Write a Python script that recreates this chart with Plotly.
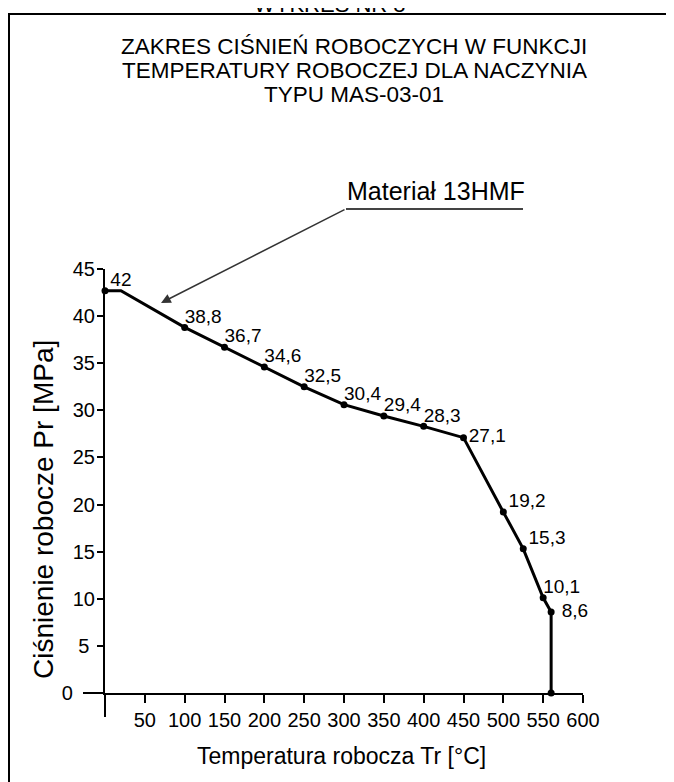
import plotly.graph_objects as go

# ---- data ----
temperature = [0, 20, 100, 150, 200, 250, 300, 350, 400, 450, 500, 525, 550, 560, 560]
pressure = [42.7, 42.7, 38.8, 36.7, 34.6, 32.5, 30.6, 29.4, 28.3, 27.1, 19.2, 15.3, 10.1, 8.6, 0]
point_labels = ["", "42", "38,8", "36,7", "34,6", "32,5", "30,4", "29,4", "28,3", "\u00a027,1",
                "\u00a019,2", "\u00a015,3", "10,1", "\u00a0\u00a08,6", ""]
label_pos = ["top right", "top center", "top right", "top right", "top right", "top right",
             "top right", "top right", "top right", "middle right", "top right",
             "top right", "top right", "middle right", "top right"]
marker_on = [True, False, True, True, True, True, True, True, True, True, True, True, True, True, True]

x_ticks = [50, 100, 150, 200, 250, 300, 350, 400, 450, 500, 550, 600]
y_ticks = [0, 5, 10, 15, 20, 25, 30, 35, 40, 45]
y_ticktext = ["0\u00a0\u00a0\u00a0\u00a0", "5\u00a0", "10", "15", "20", "25", "30", "35", "40", "45"]

title_lines = ["ZAKRES CIŚNIEŃ ROBOCZYCH W FUNKCJI",
               "TEMPERATURY ROBOCZEJ DLA NACZYNIA",
               "TYPU MAS-03-01"]
header = "WYKRES NR 8"
material = "Materiał 13HMF"
x_title = "Temperatura robocza Tr [°C]"
y_title = "Ciśnienie robocze Pr [MPa]"

FONT = "Liberation Sans, Arial, sans-serif"

fig = go.Figure()
fig.add_trace(go.Scatter(
    x=temperature, y=pressure, mode="lines",
    line=dict(color="black", width=3), hoverinfo="skip", showlegend=False, cliponaxis=False))
fig.add_trace(go.Scatter(
    x=[t for t, m in zip(temperature, marker_on) if m],
    y=[p for p, m in zip(pressure, marker_on) if m],
    mode="markers", marker=dict(color="black", size=7),
    showlegend=False, cliponaxis=False))
fig.add_trace(go.Scatter(
    x=temperature, y=pressure, mode="text", text=point_labels, textposition=label_pos,
    textfont=dict(family=FONT, size=19, color="black"), showlegend=False, cliponaxis=False))

W, H = 674, 782
L, R, T, B = 97, 99, 261, 97
pw, ph = W - L - R, H - T - B

def px(xp):
    return (xp - L) / pw

def py(yp):
    return (H - B - yp) / ph

shapes = [
    # frame
    dict(type="rect", xref="paper", yref="paper", x0=px(1), x1=px(672), y0=py(800), y1=py(6),
         line=dict(color="black", width=2)),
    # axis extensions
    dict(type="line", xref="paper", yref="paper", x0=px(75), x1=0, y0=0, y1=0,
         line=dict(color="black", width=2)),
    dict(type="line", xref="paper", yref="paper", x0=0, x1=0, y0=py(709), y1=0,
         line=dict(color="black", width=2)),
    # underline for material
    dict(type="line", xref="paper", yref="paper", x0=px(338), x1=px(515), y0=py(201), y1=py(201),
         line=dict(color="#444", width=2)),
]

annotations = [
    dict(text=header, xref="paper", yref="paper", x=px(322), y=py(-4), showarrow=False,
         font=dict(family=FONT, size=22, color="black"), xanchor="center", yanchor="middle"),
    dict(text=material, xref="paper", yref="paper", x=px(428), y=py(183), showarrow=False,
         font=dict(family=FONT, size=25, color="black"), xanchor="center", yanchor="middle"),
    dict(text="", x=70.3, y=41.4, xref="x", yref="y", showarrow=True, arrowhead=2, arrowsize=1.3,
         arrowwidth=1.5, arrowcolor="#333", ax=185, ay=-94),
    dict(text=x_title, xref="paper", yref="paper", x=px(333), y=py(748), showarrow=False,
         font=dict(family=FONT, size=23, color="black"), xanchor="center", yanchor="middle"),
    dict(text=y_title, xref="paper", yref="paper", x=px(35), y=py(502), showarrow=False,
         textangle=-90, font=dict(family=FONT, size=28, color="black"),
         xanchor="center", yanchor="middle"),
]
for i, line in enumerate(title_lines):
    annotations.append(dict(text=line, xref="paper", yref="paper", x=px(346), y=py(38 + 24 * i),
                            showarrow=False, font=dict(family=FONT, size=22.5, color="black"),
                            xanchor="center", yanchor="middle"))

fig.update_layout(
    width=W, height=H, margin=dict(l=L, r=R, t=T, b=B),
    paper_bgcolor="white", plot_bgcolor="white",
    font=dict(family=FONT, color="black"),
    shapes=shapes, annotations=annotations,
    xaxis=dict(range=[0, 600], showgrid=False, zeroline=False, showline=True, linecolor="black",
               linewidth=2, ticks="outside", ticklen=8, tickwidth=2, tickcolor="black",
               tickvals=x_ticks, tickfont=dict(family=FONT, size=20, color="black")),
    yaxis=dict(range=[0, 45], showgrid=False, zeroline=False, showline=True, linecolor="black",
               linewidth=2, ticks="outside", ticklen=6, tickwidth=2, tickcolor="black",
               tickvals=y_ticks, ticktext=y_ticktext, ticklabelstandoff=-2,
               tickfont=dict(family=FONT, size=20, color="black")),
)

fig.write_html("out.html")
